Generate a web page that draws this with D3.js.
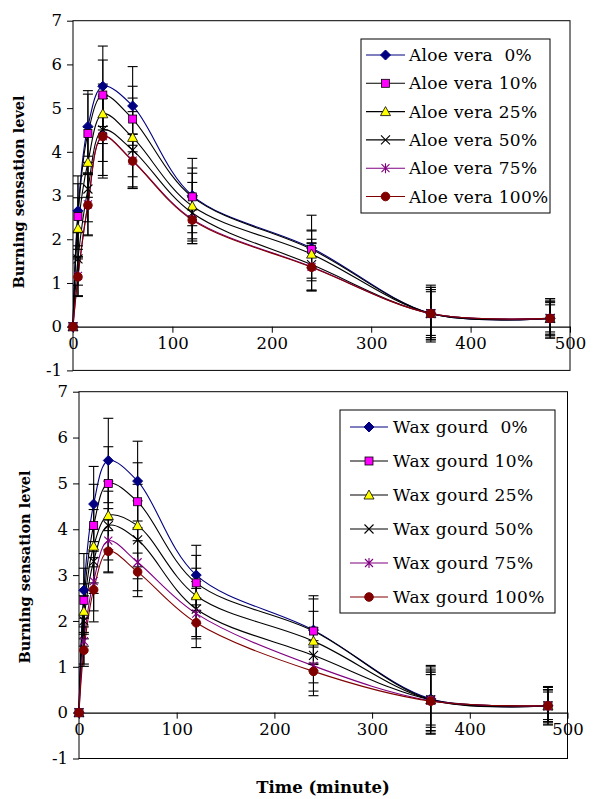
<!DOCTYPE html>
<html>
<head>
<meta charset="utf-8">
<script src="https://cdn.jsdelivr.net/npm/d3@7"></script>
<style>
  body { margin: 0; background: #fff; }
  text { font-family: "DejaVu Serif", serif; fill: #000; white-space: pre; }
</style>
</head>
<body>
<svg id="chart" width="593" height="799"></svg>
<script>
// Sampling times (minutes)
const times = [0, 5, 15, 30, 60, 120, 240, 360, 480];
const xTicks = [0, 100, 200, 300, 400, 500];
const yTicks = [-1, 0, 1, 2, 3, 4, 5, 6, 7];

const aloeLabels = ["Aloe vera  0%", "Aloe vera 10%", "Aloe vera 25%", "Aloe vera 50%", "Aloe vera 75%", "Aloe vera 100%"];
const waxLabels = ["Wax gourd  0%", "Wax gourd 10%", "Wax gourd 25%", "Wax gourd 50%", "Wax gourd 75%", "Wax gourd 100%"];

// mean burning sensation, one row per concentration
const aloeMeans = [
  [0, 2.65, 4.58, 5.50, 5.05, 3.00, 1.80, 0.30, 0.19],
  [0, 2.52, 4.42, 5.30, 4.75, 2.97, 1.77, 0.30, 0.19],
  [0, 2.25, 3.76, 4.87, 4.33, 2.76, 1.66, 0.30, 0.19],
  [0, 1.55, 3.15, 4.50, 4.04, 2.60, 1.42, 0.30, 0.19],
  [0, 1.16, 2.80, 4.36, 3.80, 2.46, 1.37, 0.30, 0.19],
  [0, 1.14, 2.78, 4.35, 3.79, 2.44, 1.36, 0.30, 0.19]
];
const aloeSD = [
  [0, 0.80, 0.82, 0.92, 0.90, 0.85, 0.75, 0.65, 0.45],
  [0, 0.75, 0.90, 0.80, 0.75, 0.66, 0.42, 0.60, 0.36],
  [0, 0.70, 0.80, 0.68, 0.90, 0.75, 0.55, 0.55, 0.31],
  [0, 0.60, 0.75, 0.72, 0.88, 0.70, 0.58, 0.50, 0.38],
  [0, 0.45, 0.70, 0.90, 0.60, 0.50, 0.55, 0.55, 0.40],
  [0, 0.45, 0.70, 0.95, 0.62, 0.54, 0.54, 0.60, 0.45]
];

const waxMeans = [
  [0, 2.67, 4.55, 5.50, 5.05, 3.00, 1.80, 0.30, 0.15],
  [0, 2.45, 4.08, 5.00, 4.60, 2.83, 1.78, 0.28, 0.15],
  [0, 2.21, 3.63, 4.30, 4.08, 2.55, 1.56, 0.28, 0.15],
  [0, 2.00, 3.30, 4.08, 3.77, 2.26, 1.25, 0.28, 0.15],
  [0, 1.56, 2.87, 3.75, 3.28, 2.16, 1.02, 0.26, 0.15],
  [0, 1.36, 2.68, 3.52, 3.07, 1.96, 0.90, 0.25, 0.15]
];
const waxSD = [
  [0, 0.80, 0.82, 0.92, 0.87, 0.65, 0.75, 0.70, 0.42],
  [0, 0.70, 0.90, 0.80, 0.85, 0.60, 0.70, 0.75, 0.40],
  [0, 0.60, 0.80, 0.75, 0.90, 0.60, 0.65, 0.60, 0.35],
  [0, 0.55, 0.70, 0.75, 0.85, 0.60, 0.60, 0.55, 0.30],
  [0, 0.50, 0.65, 0.70, 0.75, 0.55, 0.55, 0.65, 0.35],
  [0, 0.35, 0.70, 0.45, 0.41, 0.54, 0.53, 0.70, 0.35]
];

// series styling
const lineColors = ["#000080", "#000000", "#000000", "#000000", "#800080", "#800000"];
const markers = [
  { type: "diamond", fill: "#000080", stroke: "#000080" },
  { type: "square", fill: "#ff00ff", stroke: "#000000" },
  { type: "triangle", fill: "#ffff00", stroke: "#000000" },
  { type: "x", fill: "none", stroke: "#000000" },
  { type: "star", fill: "none", stroke: "#800080" },
  { type: "circle", fill: "#800000", stroke: "#800000" }
];

const svg = d3.select("#chart");

function drawMarker(g, m, cx, cy) {
  if (m.type === "diamond") {
    g.append("path").attr("d", `M${cx},${cy-5}L${cx+5},${cy}L${cx},${cy+5}L${cx-5},${cy}Z`)
      .attr("fill", m.fill).attr("stroke", m.stroke);
  } else if (m.type === "square") {
    g.append("rect").attr("x", cx - 4).attr("y", cy - 4).attr("width", 8).attr("height", 8)
      .attr("fill", m.fill).attr("stroke", m.stroke).attr("stroke-width", 0.8);
  } else if (m.type === "triangle") {
    g.append("path").attr("d", `M${cx},${cy-5}L${cx+5},${cy+4}L${cx-5},${cy+4}Z`)
      .attr("fill", m.fill).attr("stroke", m.stroke).attr("stroke-width", 0.8);
  } else if (m.type === "x") {
    g.append("path").attr("d", `M${cx-4.5},${cy-4.5}L${cx+4.5},${cy+4.5}M${cx-4.5},${cy+4.5}L${cx+4.5},${cy-4.5}`)
      .attr("stroke", m.stroke).attr("stroke-width", 1.1);
  } else if (m.type === "star") {
    g.append("path").attr("d", `M${cx-4},${cy-4}L${cx+4},${cy+4}M${cx-4},${cy+4}L${cx+4},${cy-4}M${cx},${cy-5}L${cx},${cy+5}`)
      .attr("stroke", m.stroke).attr("stroke-width", 1.1);
  } else {
    g.append("circle").attr("cx", cx).attr("cy", cy).attr("r", 4.3)
      .attr("fill", m.fill).attr("stroke", m.stroke);
  }
}

function drawPanel(p) {
  const x = d3.scaleLinear().domain([0, 500]).range([p.left, p.right]);
  const y = d3.scaleLinear().domain([-1, 7]).range([p.bottom, p.top]);
  const g = svg.append("g");

  // plot area frame
  g.append("rect")
    .attr("x", p.left).attr("y", p.top)
    .attr("width", p.right - p.left).attr("height", p.bottom - p.top)
    .attr("fill", "none").attr("stroke", "#000").attr("stroke-width", 1);

  // y axis (plain hyphen for negatives, like the original)
  const yAxis = g.append("g")
    .attr("transform", `translate(${p.left},0)`)
    .call(d3.axisLeft(y).tickValues(yTicks).tickSize(6).tickPadding(5).tickFormat(d => String(d)));
  yAxis.select(".domain").remove();
  yAxis.selectAll("text").style("font-size", "16.5px").style("font-family", "DejaVu Serif");

  // x axis at y = 0
  const xAxis = g.append("g")
    .attr("transform", `translate(0,${y(0)})`)
    .call(d3.axisBottom(x).tickValues(xTicks).tickSize(6).tickPadding(5).tickSizeOuter(0));
  xAxis.select(".domain").attr("stroke-width", 1.2);
  xAxis.selectAll("text").style("font-size", "16.5px").style("font-family", "DejaVu Serif");

  const line = d3.line()
    .x((d, i) => x(times[i]))
    .y(d => y(d))
    .curve(d3.curveCatmullRom.alpha(0.5));

  // smoothed lines
  p.means.forEach((row, s) => {
    g.append("path").datum(row)
      .attr("d", line)
      .attr("fill", "none")
      .attr("stroke", lineColors[s])
      .attr("stroke-width", 1.1);
  });

  // error bars
  p.means.forEach((row, s) => {
    row.forEach((v, i) => {
      const sd = p.sd[s][i];
      if (!sd) return;
      const cx = x(times[i]);
      const eb = g.append("g").attr("stroke", "#000").attr("stroke-width", 1.1);
      eb.append("line").attr("x1", cx).attr("x2", cx).attr("y1", y(v - sd)).attr("y2", y(v + sd));
      eb.append("line").attr("x1", cx - 5).attr("x2", cx + 5).attr("y1", y(v - sd)).attr("y2", y(v - sd));
      eb.append("line").attr("x1", cx - 5).attr("x2", cx + 5).attr("y1", y(v + sd)).attr("y2", y(v + sd));
    });
  });

  // markers
  p.means.forEach((row, s) => {
    const mg = g.append("g");
    row.forEach((v, i) => drawMarker(mg, markers[s], x(times[i]), y(v)));
  });

  // y title
  g.append("text")
    .attr("transform", `translate(${p.titleX},${p.titleY}) rotate(-90)`)
    .attr("text-anchor", "middle")
    .style("font-size", "14.5px").style("font-weight", "bold")
    .text("Burning sensation level");

  // legend
  const L = p.legend;
  const lg = g.append("g");
  lg.append("rect").attr("x", L.x).attr("y", L.y).attr("width", L.w).attr("height", L.h)
    .attr("fill", "#fff").attr("stroke", "#000");
  p.labels.forEach((lab, s) => {
    const ry = L.row0 + s * L.step;
    lg.append("line").attr("x1", L.lx1).attr("x2", L.lx2).attr("y1", ry).attr("y2", ry)
      .attr("stroke", lineColors[s]).attr("stroke-width", 1.1);
    drawMarker(lg, markers[s], (L.lx1 + L.lx2) / 2, ry);
    lg.append("text").attr("x", L.tx).attr("y", ry + 6)
      .style("font-size", "17px").style("letter-spacing", L.ls + "px").text(lab);
  });
}

drawPanel({
  left: 73, right: 570, top: 20.7, bottom: 370.4,
  means: aloeMeans, sd: aloeSD, labels: aloeLabels,
  titleX: 24, titleY: 192,
  legend: { x: 361, y: 39, w: 189, h: 174, row0: 55, step: 28.3, lx1: 366, lx2: 405, tx: 409, ls: 0.3 }
});

drawPanel({
  left: 79, right: 567.5, top: 391.7, bottom: 758.5,
  means: waxMeans, sd: waxSD, labels: waxLabels,
  titleX: 30, titleY: 567,
  legend: { x: 340, y: 410, w: 215, h: 203, row0: 427, step: 34, lx1: 350, lx2: 388, tx: 393, ls: 0.4 }
});

svg.append("text")
  .attr("x", 323).attr("y", 793)
  .attr("text-anchor", "middle")
  .style("font-size", "16.5px").style("font-weight", "bold")
  .text("Time (minute)");
</script>
</body>
</html>
